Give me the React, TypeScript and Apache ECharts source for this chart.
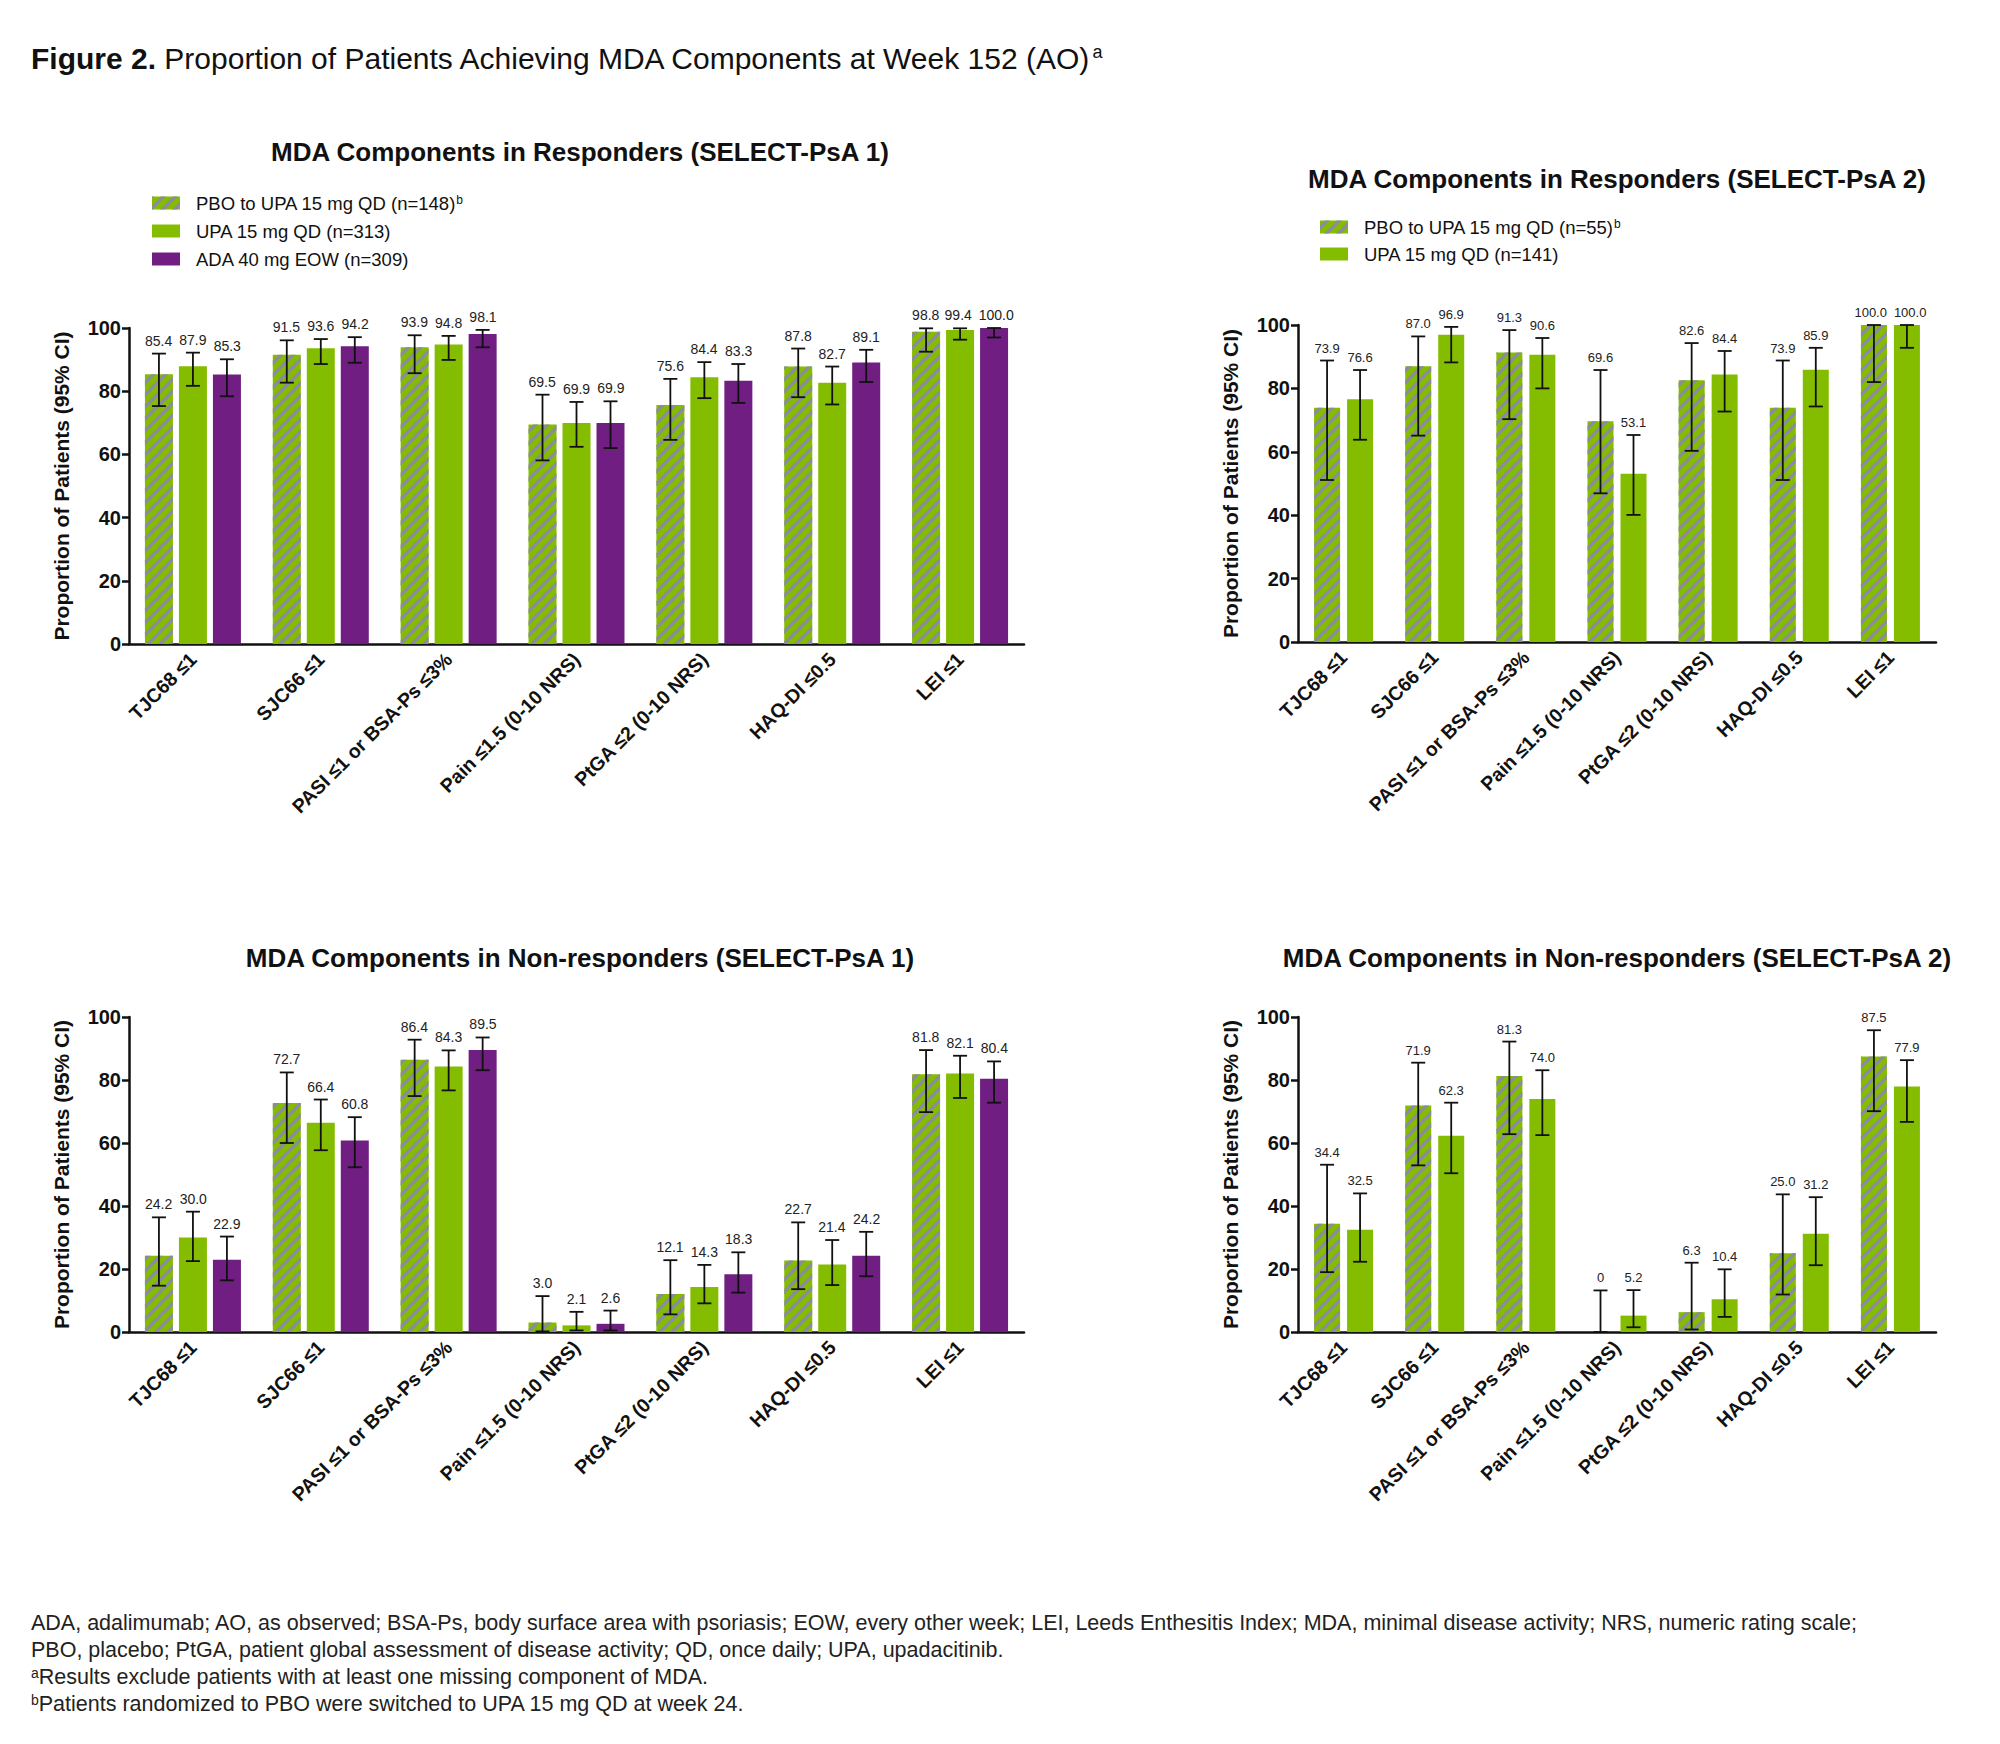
import React, { useEffect, useRef } from "react";
import * as echarts from "echarts";

const categories = [
  "TJC68 ≤1",
  "SJC66 ≤1",
  "PASI ≤1 or BSA-Ps ≤3%",
  "Pain ≤1.5 (0-10 NRS)",
  "PtGA ≤2 (0-10 NRS)",
  "HAQ-DI ≤0.5",
  "LEI ≤1",
];
const yTicks = { min: 0, max: 100, interval: 20 };

// Responders, SELECT-PsA 1
const r1PboName = "PBO to UPA 15 mg QD (n=148)";
const r1PboVals = [85.4, 91.5, 93.9, 69.5, 75.6, 87.8, 98.8];
const r1PboLow = [75.3, 82.7, 85.7, 58.1, 64.6, 78.1, 92.5];
const r1PboHigh = [91.9, 96.1, 97.7, 78.9, 83.9, 93.5, 99.9];
const r1UpaName = "UPA 15 mg QD (n=313)";
const r1UpaVals = [87.9, 93.6, 94.8, 69.9, 84.4, 82.7, 99.4];
const r1UpaLow = [81.7, 88.6, 89.9, 62.4, 77.8, 75.8, 96.3];
const r1UpaHigh = [92.2, 96.5, 97.5, 76.6, 89.2, 87.8, 99.9];
const r1AdaName = "ADA 40 mg EOW (n=309)";
const r1AdaVals = [85.3, 94.2, 98.1, 69.9, 83.3, 89.1, 100.0];
const r1AdaLow = [78.4, 89.0, 93.9, 62.0, 76.3, 82.9, 97.0];
const r1AdaHigh = [90.1, 97.1, 99.4, 76.8, 88.6, 93.1, 100.0];

// Responders, SELECT-PsA 2
const r2PboName = "PBO to UPA 15 mg QD (n=55)";
const r2PboVals = [73.9, 87.0, 91.3, 69.6, 82.6, 73.9, 100.0];
const r2PboLow = [51.1, 65.1, 70.3, 46.9, 60.3, 51.1, 82.0];
const r2PboHigh = [88.8, 96.4, 98.4, 85.8, 94.3, 88.8, 100.0];
const r2UpaName = "UPA 15 mg QD (n=141)";
const r2UpaVals = [76.6, 96.9, 90.6, 53.1, 84.4, 85.9, 100.0];
const r2UpaLow = [63.8, 88.2, 80.0, 40.1, 72.7, 74.3, 92.8];
const r2UpaHigh = [85.8, 99.4, 95.9, 65.3, 91.8, 92.8, 100.0];

// Non-responders, SELECT-PsA 1
const n1PboVals = [24.2, 72.7, 86.4, 3.0, 12.1, 22.7, 81.8];
const n1PboLow = [14.7, 60.0, 74.9, 0.2, 5.6, 13.6, 69.8];
const n1PboHigh = [36.4, 82.4, 92.8, 11.4, 22.8, 34.8, 89.5];
const n1UpaVals = [30.0, 66.4, 84.3, 2.1, 14.3, 21.4, 82.1];
const n1UpaLow = [22.5, 57.7, 76.7, 0.5, 9.1, 14.9, 74.3];
const n1UpaHigh = [38.2, 73.8, 89.4, 6.4, 21.3, 29.2, 87.7];
const n1AdaVals = [22.9, 60.8, 89.5, 2.6, 18.3, 24.2, 80.4];
const n1AdaLow = [16.4, 52.3, 83.1, 0.5, 12.5, 17.7, 72.8];
const n1AdaHigh = [30.3, 68.2, 93.5, 6.8, 25.3, 31.8, 85.9];

// Non-responders, SELECT-PsA 2
const n2PboVals = [34.4, 71.9, 81.3, 0, 6.3, 25.0, 87.5];
const n2PboLow = [19.0, 52.9, 62.8, 0, 0.8, 11.9, 70.1];
const n2PboHigh = [53.1, 85.5, 92.2, 13.2, 22.0, 43.7, 95.8];
const n2UpaVals = [32.5, 62.3, 74.0, 5.2, 10.4, 31.2, 77.9];
const n2UpaLow = [22.3, 50.4, 62.5, 1.5, 4.8, 21.2, 66.7];
const n2UpaHigh = [44.0, 72.8, 83.1, 13.3, 19.9, 42.8, 86.3];

const panelTitles = [
  "MDA Components in Responders (SELECT-PsA 1)",
  "MDA Components in Responders (SELECT-PsA 2)",
  "MDA Components in Non-responders (SELECT-PsA 1)",
  "MDA Components in Non-responders (SELECT-PsA 2)",
];
const yAxisName = "Proportion of Patients (95% CI)";
const mainTitle = "{b|Figure 2.} Proportion of Patients Achieving MDA Components at Week 152 (AO){sup|a}";
const footnotes = [
  "ADA, adalimumab; AO, as observed; BSA-Ps, body surface area with psoriasis; EOW, every other week; LEI, Leeds Enthesitis Index; MDA, minimal disease activity; NRS, numeric rating scale;",
  "PBO, placebo; PtGA, patient global assessment of disease activity; QD, once daily; UPA, upadacitinib.",
  "{sup|a}Results exclude patients with at least one missing component of MDA.",
  "{sup|b}Patients randomized to PBO were switched to UPA 15 mg QD at week 24.",
];

const FONT = '"Liberation Sans", Arial, Helvetica, sans-serif';
const GREEN = "#84BD00";
const PURPLE = "#701E82";
const STRIPE = "#8C8AA0";
const STRIPE_PERIOD = 12;
const STRIPE_BAND = 5;

type Ser = { name: string; kind: "pbo" | "upa" | "ada"; vals: number[]; low: number[]; high: number[] };

const panels: {
  grid: any; barWidth: number; gap: number; labelSize: number; series: Ser[];
  titleX: number; titleY: number; legend?: { x: number; y: number; step: number };
}[] = [
  {
    grid: { left: 129, top: 328, width: 895, height: 316 },
    barWidth: 28, gap: 6, labelSize: 14, titleX: 580, titleY: 152,
    legend: { x: 152, y: 203, step: 28 },
    series: [
      { name: r1PboName, kind: "pbo", vals: r1PboVals, low: r1PboLow, high: r1PboHigh },
      { name: r1UpaName, kind: "upa", vals: r1UpaVals, low: r1UpaLow, high: r1UpaHigh },
      { name: r1AdaName, kind: "ada", vals: r1AdaVals, low: r1AdaLow, high: r1AdaHigh },
    ],
  },
  {
    grid: { left: 1298, top: 325, width: 638, height: 317 },
    barWidth: 26, gap: 7, labelSize: 13, titleX: 1617, titleY: 179,
    legend: { x: 1320, y: 227, step: 27 },
    series: [
      { name: r2PboName, kind: "pbo", vals: r2PboVals, low: r2PboLow, high: r2PboHigh },
      { name: r2UpaName, kind: "upa", vals: r2UpaVals, low: r2UpaLow, high: r2UpaHigh },
    ],
  },
  {
    grid: { left: 129, top: 1017, width: 895, height: 315 },
    barWidth: 28, gap: 6, labelSize: 14, titleX: 580, titleY: 958,
    series: [
      { name: r1PboName, kind: "pbo", vals: n1PboVals, low: n1PboLow, high: n1PboHigh },
      { name: r1UpaName, kind: "upa", vals: n1UpaVals, low: n1UpaLow, high: n1UpaHigh },
      { name: r1AdaName, kind: "ada", vals: n1AdaVals, low: n1AdaLow, high: n1AdaHigh },
    ],
  },
  {
    grid: { left: 1298, top: 1017, width: 638, height: 315 },
    barWidth: 26, gap: 7, labelSize: 13, titleX: 1617, titleY: 958,
    series: [
      { name: r2PboName, kind: "pbo", vals: n2PboVals, low: n2PboLow, high: n2PboHigh },
      { name: r2UpaName, kind: "upa", vals: n2UpaVals, low: n2UpaLow, high: n2UpaHigh },
    ],
  },
];

// clip a convex polygon to the half-plane sign*(x+y-c) >= 0
function clipHalf(poly: number[][], c: number, sign: number) {
  const out: number[][] = [];
  const f = (p: number[]) => sign * (p[0] + p[1] - c);
  for (let i = 0; i < poly.length; i++) {
    const a = poly[i];
    const b = poly[(i + 1) % poly.length];
    const fa = f(a);
    const fb = f(b);
    if (fa >= 0) out.push(a);
    if ((fa >= 0) !== (fb >= 0)) {
      const t = fa / (fa - fb);
      out.push([a[0] + (b[0] - a[0]) * t, a[1] + (b[1] - a[1]) * t]);
    }
  }
  return out;
}

// "/" stripes clipped to a rectangle
function stripePolys(x0: number, x1: number, y0: number, y1: number) {
  const res: number[][][] = [];
  if (y1 - y0 < 0.5) return res;
  const rect = [[x0, y0], [x1, y0], [x1, y1], [x0, y1]];
  const cMin = x0 + y0 - STRIPE_BAND;
  const cMax = x1 + y1 + STRIPE_BAND;
  for (let c = Math.floor(cMin / STRIPE_PERIOD) * STRIPE_PERIOD; c <= cMax; c += STRIPE_PERIOD) {
    let p = clipHalf(rect, c - STRIPE_BAND / 2, 1);
    if (p.length < 3) continue;
    p = clipHalf(p, c + STRIPE_BAND / 2, -1);
    if (p.length >= 3) res.push(p);
  }
  return res;
}

function colorFor(kind: string) {
  return kind === "ada" ? PURPLE : GREEN;
}

function fmt(v: number) {
  return v === 0 ? "0" : v.toFixed(1);
}

// horizontal nudges that keep neighbouring value labels at the same height from touching
function labelNudges(p: (typeof panels)[number]) {
  const n = p.series.length;
  const step = p.barWidth + p.gap;
  const plotH = p.grid.height;
  const nudges = p.series.map(() => categories.map(() => 0));
  categories.forEach((_, k) => {
    for (let a = 0; a < n - 1; a++) {
      const b = a + 1;
      const ha = p.series[a].high[k];
      const hb = p.series[b].high[k];
      if ((Math.abs(ha - hb) / 100) * plotH > p.labelSize) continue;
      const wa = fmt(p.series[a].vals[k]).length * p.labelSize * 0.53;
      const wb = fmt(p.series[b].vals[k]).length * p.labelSize * 0.53;
      const need = wa / 2 + wb / 2 + 5 - step;
      if (need > 0) {
        nudges[a][k] -= need / 2;
        nudges[b][k] += need / 2;
      }
    }
  });
  return nudges;
}

function buildOption() {
  const grids: any[] = [];
  const xAxes: any[] = [];
  const yAxes: any[] = [];
  const series: any[] = [];
  const graphics: any[] = [];

  panels.forEach((p, i) => {
    grids.push({ ...p.grid, containLabel: false });
    xAxes.push({
      type: "category",
      gridIndex: i,
      data: categories,
      axisLine: { lineStyle: { color: "#111", width: 2.5 } },
      axisTick: { alignWithLabel: true, length: 8, lineStyle: { color: "#111", width: 2.5 } },
      axisLabel: {
        interval: 0,
        rotate: 45,
        margin: 12,
        fontSize: 19.5,
        fontWeight: "bold",
        color: "#111",
        fontFamily: FONT,
      },
    });
    yAxes.push({
      type: "value",
      gridIndex: i,
      min: yTicks.min,
      max: yTicks.max,
      interval: yTicks.interval,
      name: yAxisName,
      nameLocation: "middle",
      nameGap: 57,
      nameTextStyle: { fontSize: 21, fontWeight: "bold", color: "#111", fontFamily: FONT },
      splitLine: { show: false },
      axisLine: { show: true, lineStyle: { color: "#111", width: 2.5 } },
      axisTick: { show: true, length: 7, lineStyle: { color: "#111", width: 2.5 } },
      axisLabel: { fontSize: 20, fontWeight: "bold", color: "#111", fontFamily: FONT, margin: 8 },
    });

    const n = p.series.length;
    const step = p.barWidth + p.gap;
    const nudges = labelNudges(p);
    p.series.forEach((s, si) => {
      const offset = (si - (n - 1) / 2) * step;
      series.push({
        type: "bar",
        name: s.name,
        xAxisIndex: i,
        yAxisIndex: i,
        data: s.vals,
        barWidth: p.barWidth,
        barGap: `${(p.gap / p.barWidth) * 100}%`,
        itemStyle: { color: colorFor(s.kind) },
        emphasis: { disabled: true },
      });
      if (s.kind === "pbo") {
        const bw = p.barWidth;
        series.push({
          type: "custom",
          name: `stripes-${i}`,
          xAxisIndex: i,
          yAxisIndex: i,
          z: 5,
          silent: true,
          encode: { x: 0, y: 1 },
          data: s.vals.map((v, k) => [k, v]),
          renderItem: (params: any, api: any) => {
            const k = api.value(0);
            const top = api.coord([k, api.value(1)]);
            const base = api.coord([k, 0]);
            const cx = top[0] + offset;
            const polys = stripePolys(cx - bw / 2, cx + bw / 2, top[1], base[1]);
            return {
              type: "group",
              children: polys.map((pts) => ({
                type: "polygon",
                shape: { points: pts },
                style: { fill: STRIPE },
              })),
            };
          },
        });
      }
      const nud = nudges[si];
      series.push({
        type: "custom",
        name: `ci-${i}-${si}`,
        xAxisIndex: i,
        yAxisIndex: i,
        z: 10,
        silent: true,
        encode: { x: 0, y: [1, 2] },
        data: s.vals.map((v, k) => [k, s.low[k], s.high[k], v]),
        renderItem: (params: any, api: any) => {
          const k = api.value(0);
          const lo = api.coord([k, api.value(1)]);
          const hi = api.coord([k, api.value(2)]);
          const x = lo[0] + offset;
          const cap = 7;
          const ls = { stroke: "#111", lineWidth: 1.8 };
          return {
            type: "group",
            children: [
              { type: "line", shape: { x1: x, y1: lo[1], x2: x, y2: hi[1] }, style: ls },
              { type: "line", shape: { x1: x - cap, y1: hi[1], x2: x + cap, y2: hi[1] }, style: ls },
              { type: "line", shape: { x1: x - cap, y1: lo[1], x2: x + cap, y2: lo[1] }, style: ls },
              {
                type: "text",
                style: {
                  text: fmt(api.value(3)),
                  x: x + nud[k],
                  y: hi[1] - 6,
                  align: "center",
                  verticalAlign: "bottom",
                  fill: "#222",
                  fontSize: p.labelSize,
                  fontFamily: FONT,
                },
              },
            ],
          };
        },
      });
    });

    graphics.push({
      type: "text",
      x: p.titleX,
      y: p.titleY,
      z: 100,
      style: {
        text: panelTitles[i],
        align: "center",
        verticalAlign: "middle",
        fontSize: 26,
        fontWeight: "bold",
        fill: "#111",
        fontFamily: FONT,
      },
    });

    // legend drawn as graphics (swatch + hatch + text)
    if (p.legend) {
      const lg = p.legend;
      p.series.forEach((s, si) => {
        const cy = lg.y + si * lg.step;
        const sx = lg.x;
        const sw = 28;
        const sh = 13;
        graphics.push({
          type: "rect",
          z: 100,
          shape: { x: sx, y: cy - sh / 2, width: sw, height: sh },
          style: { fill: colorFor(s.kind) },
        });
        if (s.kind === "pbo") {
          stripePolys(sx, sx + sw, cy - sh / 2, cy + sh / 2).forEach((pts) => {
            graphics.push({ type: "polygon", z: 101, shape: { points: pts }, style: { fill: STRIPE } });
          });
        }
        graphics.push({
          type: "text",
          z: 100,
          x: sx + 44,
          y: cy,
          style: {
            text: s.kind === "pbo" ? `${s.name}{sup|b}` : s.name,
            verticalAlign: "middle",
            fontSize: 18.5,
            fill: "#111",
            fontFamily: FONT,
            rich: { sup: { fontSize: 12, verticalAlign: "top", fill: "#111", fontFamily: FONT } },
          },
        });
      });
    }
  });

  graphics.push({
    type: "text",
    x: 31,
    y: 58,
    z: 100,
    style: {
      text: mainTitle,
      verticalAlign: "middle",
      fontSize: 30,
      fill: "#111",
      fontFamily: FONT,
      rich: {
        b: { fontSize: 30, fontWeight: "bold", fill: "#111", fontFamily: FONT },
        sup: { fontSize: 18, verticalAlign: "top", fill: "#111", fontFamily: FONT },
      },
    },
  });

  footnotes.forEach((t, i) => {
    graphics.push({
      type: "text",
      x: 31,
      y: 1623 + i * 27,
      z: 100,
      style: {
        text: t,
        verticalAlign: "middle",
        fontSize: 21.5,
        fill: "#222",
        fontFamily: FONT,
        rich: {
          sup: { fontSize: 14, verticalAlign: "top", fill: "#222", fontFamily: FONT },
        },
      },
    });
  });

  return {
    animation: false,
    backgroundColor: "#fff",
    grid: grids,
    xAxis: xAxes,
    yAxis: yAxes,
    series,
    graphic: graphics,
  };
}

export default function App() {
  const ref = useRef<HTMLDivElement>(null);
  useEffect(() => {
    document.body.style.margin = "0";
    if (!ref.current) return;
    const chart = echarts.init(ref.current, undefined, { renderer: "svg" });
    chart.setOption(buildOption() as any);
    return () => chart.dispose();
  }, []);
  return <div ref={ref} style={{ width: 2000, height: 1744, background: "#fff" }} />;
}
